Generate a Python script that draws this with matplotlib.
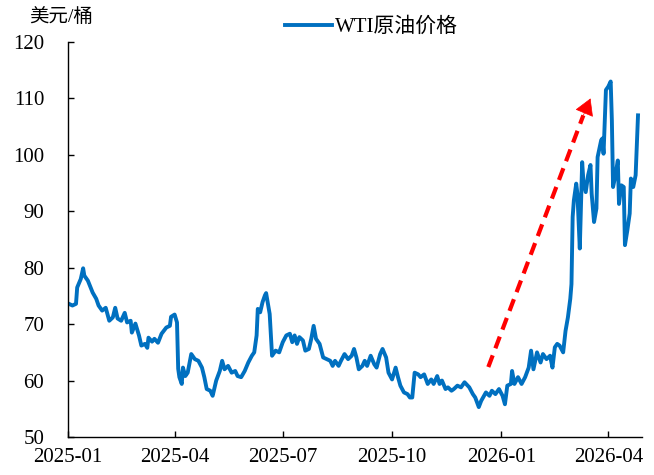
import matplotlib
matplotlib.use("Agg")
import matplotlib.pyplot as plt
import matplotlib.dates as mdates
import pandas as pd

plt.rcParams['font.family'] = ['Liberation Serif', 'Noto Sans CJK SC']

# WTI crude price
dates = [
    '2025-01-02', '2025-01-05', '2025-01-08', '2025-01-09', '2025-01-12', '2025-01-14', '2025-01-15',
    '2025-01-18', '2025-01-22', '2025-01-25', '2025-01-27', '2025-01-30', '2025-02-02', '2025-02-05',
    '2025-02-08', '2025-02-10', '2025-02-12', '2025-02-15', '2025-02-18', '2025-02-20', '2025-02-23',
    '2025-02-24', '2025-02-27', '2025-03-02', '2025-03-04', '2025-03-07', '2025-03-09', '2025-03-10',
    '2025-03-13', '2025-03-15', '2025-03-18', '2025-03-21', '2025-03-25', '2025-03-28', '2025-03-29',
    '2025-04-01', '2025-04-03', '2025-04-04', '2025-04-05', '2025-04-07', '2025-04-08', '2025-04-10',
    '2025-04-12', '2025-04-15', '2025-04-18', '2025-04-21', '2025-04-24', '2025-04-26', '2025-04-28',
    '2025-05-01', '2025-05-03', '2025-05-06', '2025-05-09', '2025-05-11', '2025-05-13', '2025-05-16',
    '2025-05-19', '2025-05-22', '2025-05-24', '2025-05-27', '2025-05-30', '2025-06-02', '2025-06-05',
    '2025-06-07', '2025-06-09', '2025-06-10', '2025-06-12', '2025-06-14', '2025-06-16', '2025-06-17',
    '2025-06-20', '2025-06-22', '2025-06-25', '2025-06-28', '2025-07-01', '2025-07-04', '2025-07-07',
    '2025-07-09', '2025-07-11', '2025-07-13', '2025-07-15', '2025-07-18', '2025-07-20', '2025-07-23',
    '2025-07-25', '2025-07-27', '2025-07-29', '2025-08-01', '2025-08-04', '2025-08-07', '2025-08-10',
    '2025-08-12', '2025-08-14', '2025-08-17', '2025-08-19', '2025-08-22', '2025-08-25', '2025-08-28',
    '2025-08-30', '2025-09-01', '2025-09-03', '2025-09-06', '2025-09-08', '2025-09-10', '2025-09-13',
    '2025-09-16', '2025-09-18', '2025-09-21', '2025-09-23', '2025-09-26', '2025-09-28', '2025-10-01',
    '2025-10-04', '2025-10-06', '2025-10-08', '2025-10-11', '2025-10-14', '2025-10-16', '2025-10-18',
    '2025-10-20', '2025-10-23', '2025-10-25', '2025-10-28', '2025-10-31', '2025-11-03', '2025-11-05',
    '2025-11-08', '2025-11-10', '2025-11-12', '2025-11-15', '2025-11-17', '2025-11-20', '2025-11-22',
    '2025-11-25', '2025-11-28', '2025-12-01', '2025-12-05', '2025-12-08', '2025-12-10', '2025-12-13',
    '2025-12-15', '2025-12-19', '2025-12-22', '2025-12-24', '2025-12-27', '2025-12-30', '2026-01-02',
    '2026-01-04', '2026-01-06', '2026-01-09', '2026-01-10', '2026-01-12', '2026-01-15', '2026-01-18',
    '2026-01-21', '2026-01-24', '2026-01-26', '2026-01-28', '2026-01-31', '2026-02-03', '2026-02-05',
    '2026-02-08', '2026-02-11', '2026-02-13', '2026-02-15', '2026-02-17', '2026-02-19', '2026-02-22',
    '2026-02-24', '2026-02-26', '2026-02-28', '2026-03-01', '2026-03-02', '2026-03-03', '2026-03-05',
    '2026-03-06', '2026-03-08', '2026-03-10', '2026-03-11', '2026-03-13', '2026-03-15', '2026-03-17',
    '2026-03-18', '2026-03-20', '2026-03-22', '2026-03-23', '2026-03-26', '2026-03-27', '2026-03-28',
    '2026-03-30', '2026-04-01', '2026-04-03', '2026-04-04', '2026-04-05', '2026-04-07', '2026-04-09',
    '2026-04-10', '2026-04-12', '2026-04-14', '2026-04-15', '2026-04-17', '2026-04-19', '2026-04-20',
    '2026-04-22', '2026-04-24', '2026-04-26',
]
wti = [
    73.6, 73.3, 73.6, 76.5, 78.0, 79.9, 78.6,
    77.7, 75.6, 74.5, 73.3, 72.4, 72.9, 70.6,
    71.2, 72.9, 71.0, 70.6, 72.0, 70.3, 70.6,
    68.5, 70.1, 68.0, 66.2, 66.5, 65.8, 67.6,
    66.9, 67.4, 66.7, 68.3, 69.4, 69.7, 71.3,
    71.7, 70.3, 62.1, 60.6, 59.4, 62.3, 60.8,
    61.4, 64.7, 63.8, 63.5, 62.3, 60.6, 58.5,
    58.2, 57.3, 60.0, 61.7, 63.5, 62.0, 62.6,
    61.4, 61.7, 60.8, 60.6, 61.7, 63.2, 64.4,
    65.0, 68.0, 72.7, 72.1, 73.9, 75.1, 75.5,
    71.8, 64.4, 65.3, 65.0, 66.8, 68.0, 68.3,
    66.8, 68.0, 66.5, 67.7, 67.1, 65.3, 65.6,
    67.4, 69.7, 67.4, 66.5, 64.1, 63.8, 63.5,
    62.6, 63.5, 62.6, 63.5, 64.7, 63.8, 64.4,
    65.6, 64.1, 62.0, 62.6, 63.5, 62.6, 64.4,
    62.9, 62.3, 64.7, 65.6, 64.1, 61.4, 60.2,
    62.3, 60.6, 59.1, 57.9, 57.6, 57.0, 57.0,
    61.4, 61.1, 60.6, 61.1, 59.4, 60.2, 59.4,
    60.8, 59.4, 60.0, 58.5, 58.8, 58.2, 58.5,
    59.1, 58.8, 59.7, 58.8, 57.6, 57.0, 55.3,
    56.4, 57.9, 57.3, 58.2, 57.6, 58.5, 57.3,
    55.8, 59.1, 59.4, 61.7, 59.4, 60.6, 59.4,
    60.6, 62.3, 65.3, 62.0, 65.0, 63.2, 64.7,
    63.8, 64.4, 62.3, 65.9, 66.5, 66.2, 65.0,
    68.8, 71.2, 74.5, 77.1, 89.0, 91.9, 94.9,
    93.1, 83.4, 98.7, 95.5, 93.4, 96.4, 98.2,
    93.1, 88.1, 90.5, 99.6, 102.6, 102.9, 100.2,
    111.5, 112.1, 113.0, 106.1, 94.3, 96.4, 99.0,
    91.3, 94.6, 94.3, 84.0, 86.6, 89.6, 95.8,
    94.3, 96.4, 107.0,
]

# red trend arrow: start of dashes, base of head, tip
arrow_start = ('2025-12-21', 62.4)
arrow_base = ('2026-03-11', 107.0)
arrow_tip = ('2026-03-17', 110.0)

tick_dates = ['2025-01', '2025-04', '2025-07', '2025-10', '2026-01', '2026-04']

fig = plt.figure(figsize=(6.54, 4.75), dpi=100)
ax = fig.add_axes([0.1035, 0.08, 0.8775, 0.8316])

x = pd.to_datetime(dates)
ax.plot(x, wti, color='#0070C0', linewidth=2.8, solid_joinstyle='round', label='WTI原油价格')

xs, xb, xt = (mdates.date2num(pd.Timestamp(p[0])) for p in (arrow_start, arrow_base, arrow_tip))
ax.plot([xs, xb], [arrow_start[1], arrow_base[1]], color='red', linewidth=3,
        dashes=(3, 1.8), dash_capstyle='butt')
ax.annotate('', xy=(xt, arrow_tip[1]), xytext=(xb, arrow_base[1]),
            arrowprops=dict(arrowstyle='-|>,head_length=0.6,head_width=0.35',
                            color='red', lw=0.5, mutation_scale=18, shrinkA=0, shrinkB=0))

ax.set_xlim(pd.Timestamp('2025-01-01'), pd.Timestamp('2026-04-29'))
ax.set_ylim(50, 120)
ax.set_yticks(range(50, 121, 10))
ax.set_xticks(pd.to_datetime(tick_dates))
ax.xaxis.set_major_formatter(mdates.DateFormatter('%Y-%m'))

for s in ['top', 'right']:
    ax.spines[s].set_visible(False)
for s in ['left', 'bottom']:
    ax.spines[s].set_linewidth(1.0)
ax.tick_params(axis='both', direction='in', length=4, width=1, labelsize=15)
ax.tick_params(axis='y', pad=17)
ax.tick_params(axis='x', pad=8)

fig.text(61 / 654, 1 - 17 / 475, '美元/桶', ha='center', va='center', fontsize=14)

ax.legend(loc='center', bbox_to_anchor=(371 / 654, 1 - 27 / 475), bbox_transform=fig.transFigure,
          frameon=False, fontsize=15, handlelength=2.3, handletextpad=0.1, borderpad=0)

fig.savefig('out.png', dpi=100)
